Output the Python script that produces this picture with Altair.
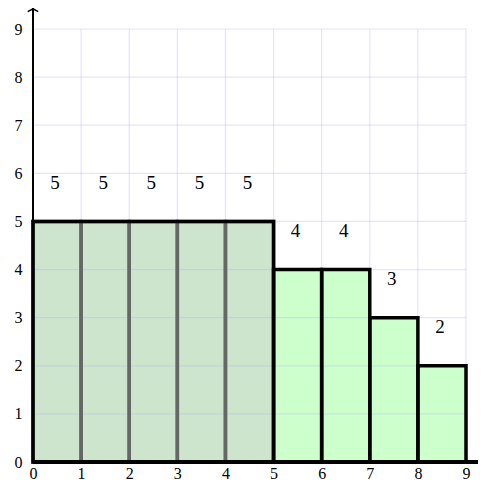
import altair as alt
import pandas as pd

# data
bar_start = [0, 1, 2, 3, 4, 5, 6, 7, 8]
bar_height = [5, 5, 5, 5, 5, 4, 4, 3, 2]
bar_group = ["A", "A", "A", "A", "A", "B", "B", "B", "B"]
ticks = [0, 1, 2, 3, 4, 5, 6, 7, 8, 9]

bars = pd.DataFrame({
    "x": bar_start,
    "x2": [s + 1 for s in bar_start],
    "h": bar_height,
    "g": bar_group,
})
barsA = bars[bars.g == "A"]
barsB = bars[bars.g == "B"]
outlineA = pd.DataFrame({"x": [barsA.x.min()], "x2": [barsA.x2.max()], "h": [barsA.h.max()]})
tick_df = pd.DataFrame({"t": ticks})

FONT = "Liberation Serif"
xs = alt.Scale(domain=[0, 9], nice=False, zero=False)
ys = alt.Scale(domain=[0, 9], nice=False, zero=False)

xax = alt.Axis(values=ticks, grid=False, domain=False, ticks=False, labelFont=FONT,
               labelFontSize=16, labelColor="black", labelPadding=3, title=None,
               labelAngle=0, labelFlush=False)
yax = alt.Axis(values=ticks, grid=False, domain=False, ticks=False, labelFont=FONT,
               labelFontSize=16, labelColor="black", labelPadding=11, title=None,
               labelFlush=False)

base = alt.Chart(bars)

fillA = alt.Chart(barsA).mark_rect(fill="#cde5cd", strokeWidth=0).encode(
    x=alt.X("x:Q", scale=xs, axis=xax), x2="x2:Q",
    y=alt.Y("zero:Q", scale=ys, axis=yax), y2="h:Q",
).transform_calculate(zero="0")

fillB = alt.Chart(barsB).mark_rect(fill="#ccffcc", strokeWidth=0).encode(
    x=alt.X("x:Q", scale=xs), x2="x2:Q",
    y=alt.Y("zero:Q", scale=ys), y2="h:Q",
).transform_calculate(zero="0")

gridV = alt.Chart(tick_df).mark_rule(color="#b3b3ff", opacity=0.35, strokeWidth=1.2).encode(
    x=alt.X("t:Q", scale=xs), y=alt.datum(0), y2=alt.datum(9)
)
gridH = alt.Chart(tick_df).mark_rule(color="#b3b3ff", opacity=0.35, strokeWidth=1.2).encode(
    y=alt.Y("t:Q", scale=ys), x=alt.datum(0), x2=alt.datum(9)
)

strokeA = alt.Chart(barsA).mark_rect(fill=None, fillOpacity=0, stroke="#666666", strokeWidth=3.5).encode(
    x=alt.X("x:Q", scale=xs), x2="x2:Q",
    y=alt.Y("zero:Q", scale=ys), y2="h:Q",
).transform_calculate(zero="0")

outA = alt.Chart(outlineA).mark_rect(fill=None, fillOpacity=0, stroke="black", strokeWidth=3.5).encode(
    x=alt.X("x:Q", scale=xs), x2="x2:Q",
    y=alt.Y("zero:Q", scale=ys), y2="h:Q",
).transform_calculate(zero="0")

strokeB = alt.Chart(barsB).mark_rect(fill=None, fillOpacity=0, stroke="black", strokeWidth=3.5).encode(
    x=alt.X("x:Q", scale=xs), x2="x2:Q",
    y=alt.Y("zero:Q", scale=ys), y2="h:Q",
).transform_calculate(zero="0")

yaxis_line = alt.Chart(tick_df).mark_rule(color="black", strokeWidth=2, clip=False).encode(
    x=alt.datum(0, scale=xs), y=alt.datum(0, scale=ys), y2=alt.datum(9.42)
)
xaxis_line = alt.Chart(tick_df).mark_rule(color="black", strokeWidth=3, clip=False).encode(
    y=alt.datum(0, scale=ys), x=alt.datum(0, scale=xs), x2=alt.datum(9.4)
)
arrow_up = alt.Chart(pd.DataFrame({"a": [0]})).mark_point(
    shape="M -1 0.55 L 0 0 L 1 0.55", filled=False, stroke="black", strokeWidth=1.5,
    size=110, clip=False, opacity=1).encode(
    x=alt.datum(0, scale=xs), y=alt.datum(9.42, scale=ys))
arrow_right = alt.Chart(pd.DataFrame({"a": [0]})).mark_point(
    shape="M -0.55 -1 L 0 0 L -0.55 1", filled=False, stroke="black", strokeWidth=1.5,
    size=110, clip=False, opacity=1).encode(
    x=alt.datum(9.4, scale=xs), y=alt.datum(0, scale=ys))

labels = base.mark_text(font=FONT, fontSize=19, color="black", baseline="middle", dx=-2).encode(
    x=alt.X("cx:Q", scale=xs), y=alt.Y("ly:Q", scale=ys), text="h:Q"
).transform_calculate(cx="datum.x + 0.5", ly="datum.h + 0.8")

chart = alt.layer(
    fillA, fillB, gridV, gridH, strokeA, strokeB, outA, yaxis_line, xaxis_line,
    arrow_up, arrow_right, labels
).properties(
    width=433, height=433,
    autosize=alt.AutoSizeParams(type="none"),
    padding={"left": 25, "top": 21, "right": 12, "bottom": 22},
).configure_view(stroke=None)

chart.save("out.html", embed_options={"renderer": "svg", "actions": False})
